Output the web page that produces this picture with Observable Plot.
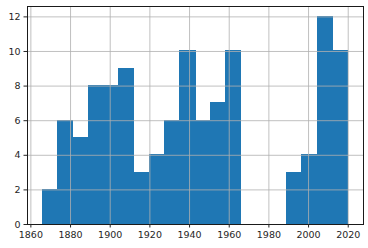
<!DOCTYPE html>
<html>
<head>
<meta charset="utf-8">
<script src="https://cdn.jsdelivr.net/npm/d3@7"></script>
<script src="https://cdn.jsdelivr.net/npm/@observablehq/plot@0.6"></script>
<style>
  html, body { margin: 0; padding: 0; background: #fff; }
  svg { display: block; }
</style>
</head>
<body>
<div id="chart"></div>
<script>
// Histogram bin edges (20 equal bins from 1866 to 2020)
const binEdges = [1866, 1873.7, 1881.4, 1889.1, 1896.8, 1904.5, 1912.2, 1919.9, 1927.6, 1935.3,
                  1943, 1950.7, 1958.4, 1966.1, 1973.8, 1981.5, 1989.2, 1996.9, 2004.6, 2012.3, 2020];
// Counts per bin
const counts = [2, 6, 5, 8, 8, 9, 3, 4, 6, 10, 6, 7, 10, 0, 0, 0, 3, 4, 12, 10];
// Tick values
const xTicks = [1860, 1880, 1900, 1920, 1940, 1960, 1980, 2000, 2020];
const yTicks = [0, 2, 4, 6, 8, 10, 12];

const bins = counts.map((c, i) => ({x1: binEdges[i], x2: binEdges[i + 1], count: c}));

const xMin = binEdges[0], xMax = binEdges[binEdges.length - 1];
const pad = (xMax - xMin) * 0.05;
const yMax = d3.max(counts) * 1.05;

const chart = Plot.plot({
  width: 368,
  height: 248,
  marginLeft: 27,
  marginRight: 5,
  marginTop: 6,
  marginBottom: 24,
  style: {fontFamily: "DejaVu Sans", fontSize: "9.5px", color: "#262626", background: "#fff"},
  x: {domain: [xMin - pad, xMax + pad], ticks: xTicks, tickFormat: d => String(d), label: null},
  y: {domain: [0, yMax], ticks: yTicks, label: null},
  marks: [
    Plot.rectY(bins.filter(d => d.count > 0), {x1: "x1", x2: "x2", y: "count", fill: "#1f77b4", stroke: "#1f77b4", strokeWidth: 1, insetLeft: 0, insetRight: 0, shapeRendering: "crispEdges"}),
    Plot.gridX(xTicks, {stroke: "#b0b0b0", strokeOpacity: 1, strokeWidth: 0.8}),
    Plot.gridY(yTicks, {stroke: "#b0b0b0", strokeOpacity: 1, strokeWidth: 0.8}),
    Plot.frame({stroke: "#1a1a1a", strokeWidth: 1}),
    Plot.axisX(xTicks, {tickSize: 3.5, tickPadding: 3.5, stroke: "#262626", fill: "#262626", label: null, tickFormat: d => String(d)}),
    Plot.axisY(yTicks, {tickSize: 3.5, tickPadding: 3.5, stroke: "#262626", fill: "#262626", label: null})
  ]
});
document.getElementById("chart").appendChild(chart);
</script>
</body>
</html>
